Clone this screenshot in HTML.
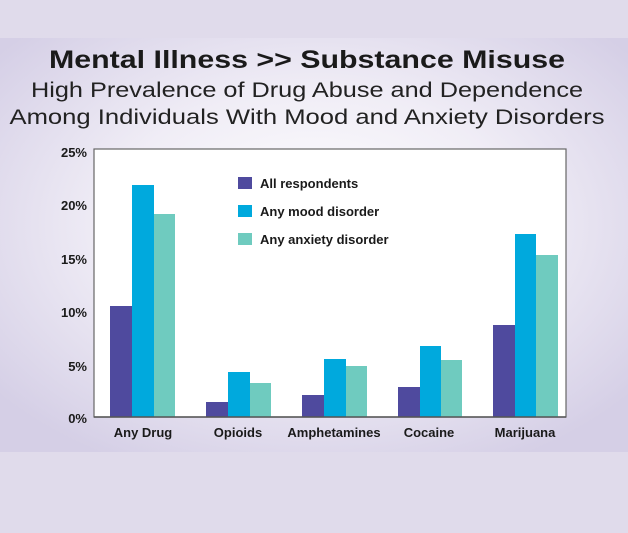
<!DOCTYPE html>
<html><head><meta charset="utf-8"><style>
html,body{margin:0;padding:0;background:#e0dbeb;}
svg{display:block;font-family:"Liberation Sans",sans-serif;}
</style></head><body>
<svg width="628" height="533" viewBox="0 0 628 533" xmlns="http://www.w3.org/2000/svg">
<defs>
<radialGradient id="g" cx="0.5" cy="0.45" r="0.65">
<stop offset="0" stop-color="#ffffff"/>
<stop offset="0.5" stop-color="#f0edf6"/>
<stop offset="1" stop-color="#d5cfe6"/>
</radialGradient>
</defs>
<rect x="0" y="0" width="628" height="533" fill="#e0dbeb"/>
<rect x="0" y="38" width="628" height="414" fill="url(#g)"/>
<text x="307" y="68" text-anchor="middle" font-size="25" font-weight="bold" fill="#1a1a1a" textLength="516" lengthAdjust="spacingAndGlyphs">Mental Illness &gt;&gt; Substance Misuse</text>
<text x="307" y="97" text-anchor="middle" font-size="21" fill="#222" textLength="552" lengthAdjust="spacingAndGlyphs">High Prevalence of Drug Abuse and Dependence</text>
<text x="307" y="124" text-anchor="middle" font-size="21" fill="#222" textLength="595" lengthAdjust="spacingAndGlyphs">Among Individuals With Mood and Anxiety Disorders</text>
<rect x="94" y="149" width="472" height="268" fill="#fff" stroke="#666" stroke-width="1.2"/>
<g font-size="13" font-weight="bold" fill="#1a1a1a" text-anchor="end">
<text x="87" y="157">25%</text>
<text x="87" y="210">20%</text>
<text x="87" y="264">15%</text>
<text x="87" y="317">10%</text>
<text x="87" y="371">5%</text>
<text x="87" y="423">0%</text>
</g>
<g>
<rect x="110" y="306" width="22" height="111" fill="#4f4a9e"/>
<rect x="132" y="185" width="22" height="232" fill="#00a9dd"/>
<rect x="154" y="214" width="21" height="203" fill="#6fcbbf"/>
<rect x="206" y="402" width="22" height="15" fill="#4f4a9e"/>
<rect x="228" y="372" width="22" height="45" fill="#00a9dd"/>
<rect x="250" y="383" width="21" height="34" fill="#6fcbbf"/>
<rect x="302" y="395" width="22" height="22" fill="#4f4a9e"/>
<rect x="324" y="359" width="22" height="58" fill="#00a9dd"/>
<rect x="346" y="366" width="21" height="51" fill="#6fcbbf"/>
<rect x="398" y="387" width="22" height="30" fill="#4f4a9e"/>
<rect x="420" y="346" width="21" height="71" fill="#00a9dd"/>
<rect x="441" y="360" width="21" height="57" fill="#6fcbbf"/>
<rect x="493" y="325" width="22" height="92" fill="#4f4a9e"/>
<rect x="515" y="234" width="21" height="183" fill="#00a9dd"/>
<rect x="536" y="255" width="22" height="162" fill="#6fcbbf"/>
</g>
<line x1="94" y1="417" x2="566" y2="417" stroke="#555" stroke-width="1.5"/>
<g font-size="13" font-weight="bold" fill="#1a1a1a">
<rect x="238" y="177" width="14" height="12" fill="#4f4a9e"/>
<text x="260" y="188">All respondents</text>
<rect x="238" y="205" width="14" height="12" fill="#00a9dd"/>
<text x="260" y="216">Any mood disorder</text>
<rect x="238" y="233" width="14" height="12" fill="#6fcbbf"/>
<text x="260" y="244">Any anxiety disorder</text>
</g>
<g font-size="13" font-weight="bold" fill="#1a1a1a" text-anchor="middle">
<text x="143" y="437">Any Drug</text>
<text x="238" y="437">Opioids</text>
<text x="334" y="437">Amphetamines</text>
<text x="429" y="437">Cocaine</text>
<text x="525" y="437">Marijuana</text>
</g>
</svg>
</body></html>
